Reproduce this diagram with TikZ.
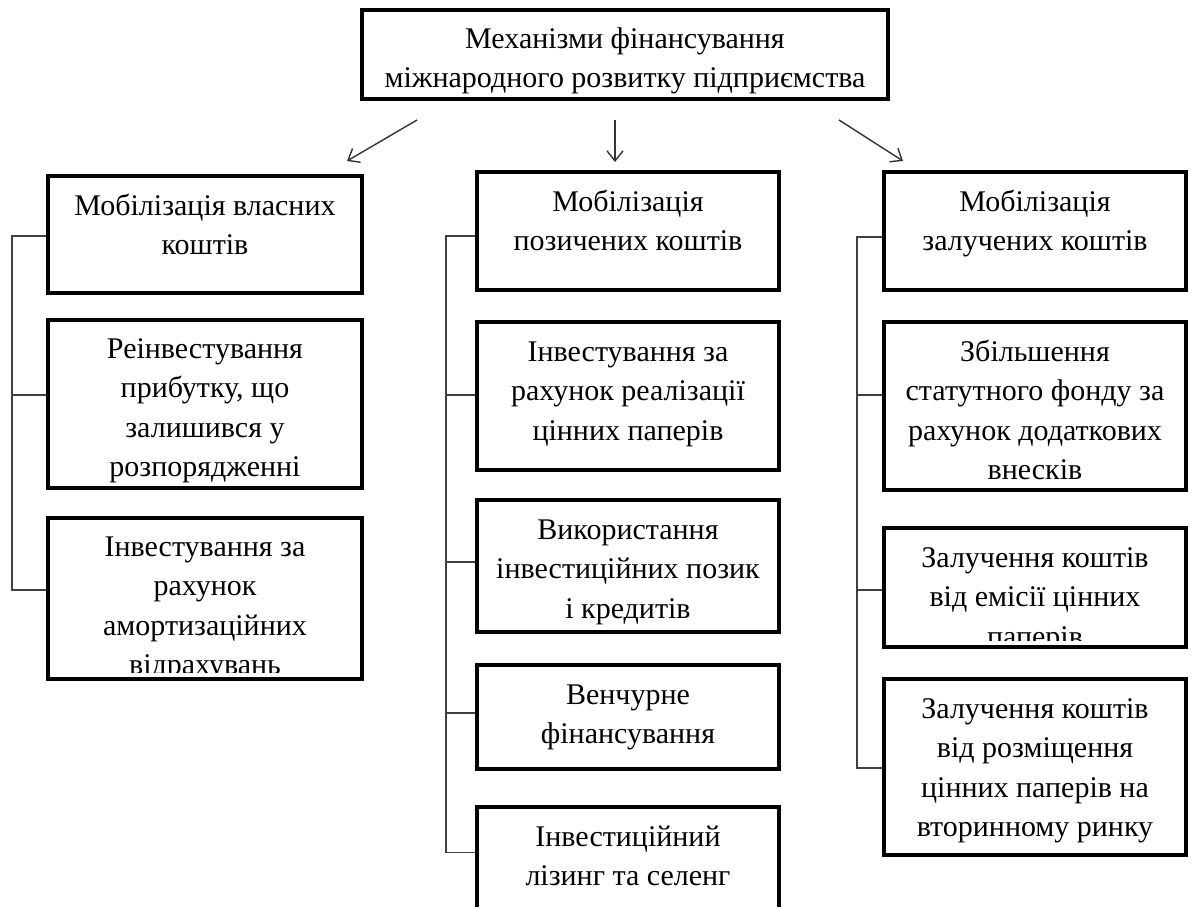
\documentclass[tikz,border=0pt]{standalone}
\usepackage{fontspec}
\setmainfont{Liberation Serif}
\usetikzlibrary{calc,arrows.meta}
\begin{document}
\begin{tikzpicture}[x=1pt,y=-1pt,
  box/.style={draw=black, line width=3.2pt, inner sep=0pt},
  txt/.style={anchor=north, align=center, inner sep=0pt, font=\fontsize{30}{39.5}\selectfont},
  conn/.style={draw=black!75, line width=1.4pt},
  arr/.style={draw=black!80, line width=1.4pt, -{Straight Barb[length=10pt,width=16pt,line width=1.4pt]}}
]
\useasboundingbox (0,0) rectangle (1192,907);
\clip (0,0) rectangle (1192,907);

% boxes
\node[box, minimum width=526, minimum height=89] (T) at (625,54.5) {};
\node[box, minimum width=314, minimum height=117] (L1) at (205,234.5) {};
\node[box, minimum width=314, minimum height=168] (L2) at (205,404) {};
\node[box, minimum width=314, minimum height=161] (L3) at (205,598.5) {};
\node[box, minimum width=302, minimum height=118] (M1) at (628,231) {};
\node[box, minimum width=302, minimum height=148] (M2) at (628,396) {};
\node[box, minimum width=302, minimum height=132] (M3) at (628,566) {};
\node[box, minimum width=302, minimum height=104] (M4) at (628,717) {};
\node[box, minimum width=302, minimum height=113] (M5) at (628,863.5) {};
\node[box, minimum width=302, minimum height=118] (R1) at (1035,231) {};
\node[box, minimum width=302, minimum height=168] (R2) at (1035,406) {};
\node[box, minimum width=302, minimum height=119] (R3) at (1035,587.5) {};
\node[box, minimum width=302, minimum height=176] (R4) at (1035,767) {};

% texts
\node[txt] (Tt) at ($(T.north)+(0,12)$) {\strut Механізми фінансування\\міжнародного розвитку підприємства};
\node[txt] (L1t) at ($(L1.north)+(0,13)$) {\strut Мобілізація власних\\коштів};
\node[txt] (L2t) at ($(L2.north)+(0,12)$) {\strut Реінвестування\\прибутку, що\\залишився у\\розпорядженні};
\begin{scope}
  \clip (L3.north west) rectangle ($(L3.south east)+(0,-8)$);
  \node[txt] (L3t) at ($(L3.north)+(0,12)$) {\strut Інвестування за\\рахунок\\амортизаційних\\відрахувань};
\end{scope}
\node[txt] (M1t) at ($(M1.north)+(0,13)$) {\strut Мобілізація\\позичених коштів};
\node[txt] (M2t) at ($(M2.north)+(0,13)$) {\strut Інвестування за\\рахунок реалізації\\цінних паперів};
\node[txt] (M3t) at ($(M3.north)+(0,13)$) {\strut Використання\\інвестиційних позик\\і кредитів};
\node[txt] (M4t) at ($(M4.north)+(0,13)$) {\strut Венчурне\\фінансування};
\node[txt] (M5t) at ($(M5.north)+(0,13)$) {\strut Інвестиційний\\лізинг та селенг};
\node[txt] (R1t) at ($(R1.north)+(0,13)$) {\strut Мобілізація\\залучених коштів};
\node[txt] (R2t) at ($(R2.north)+(0,13)$) {\strut Збільшення\\статутного фонду за\\рахунок додаткових\\внесків};
\begin{scope}
  \clip (R3.north west) rectangle ($(R3.south east)+(0,-8)$);
  \node[txt] (R3t) at ($(R3.north)+(0,13)$) {\strut Залучення коштів\\від емісії цінних\\паперів};
\end{scope}
\node[txt] (R4t) at ($(R4.north)+(0,13)$) {\strut Залучення коштів\\від розміщення\\цінних паперів на\\вторинному ринку};

% arrows
\draw[arr] ($(T.south west)+(56.6,19.4)$) -- ($(L1.north east)+(-16.6,-13.4)$);
\draw[arr] ($(T.south)+(-10,19.4)$) -- ($(M1.north)+(-13,-8.4)$);
\draw[arr] ($(T.south east)+(-50.6,19.4)$) -- ($(R1.north west)+(20.6,-9.4)$);

% spines
\coordinate (Ls) at (12,0);
\coordinate (Ms) at (446,0);
\coordinate (Rs) at (857,0);

\coordinate (l1) at ($(L1.west)+(0,1.5)$);
\coordinate (l2) at ($(L2.west)+(0,-9)$);
\coordinate (l3) at ($(L3.west)+(0,-8.5)$);
\draw[conn] (l1) -- (l1 -| Ls) -- (l3 -| Ls) -- (l3);
\draw[conn] (l2) -- (l2 -| Ls);

\coordinate (m1) at ($(M1.west)+(0,5)$);
\coordinate (m2) at ($(M2.west)+(0,-1)$);
\coordinate (m3) at ($(M3.west)+(0,-4)$);
\coordinate (m4) at ($(M4.west)+(0,-4)$);
\coordinate (m5) at ($(M5.west)+(0,-11)$);
\draw[conn] (m1) -- (m1 -| Ms) -- (m5 -| Ms) -- (m5);
\draw[conn] (m2) -- (m2 -| Ms);
\draw[conn] (m3) -- (m3 -| Ms);
\draw[conn] (m4) -- (m4 -| Ms);

\coordinate (r1) at ($(R1.west)+(0,6)$);
\coordinate (r2) at ($(R2.west)+(0,-11)$);
\coordinate (r3) at ($(R3.west)+(0,2.5)$);
\coordinate (r4) at ($(R4.west)+(0,1)$);
\draw[conn] (r1) -- (r1 -| Rs) -- (r4 -| Rs) -- (r4);
\draw[conn] (r2) -- (r2 -| Rs);
\draw[conn] (r3) -- (r3 -| Rs);
\end{tikzpicture}
\end{document}
